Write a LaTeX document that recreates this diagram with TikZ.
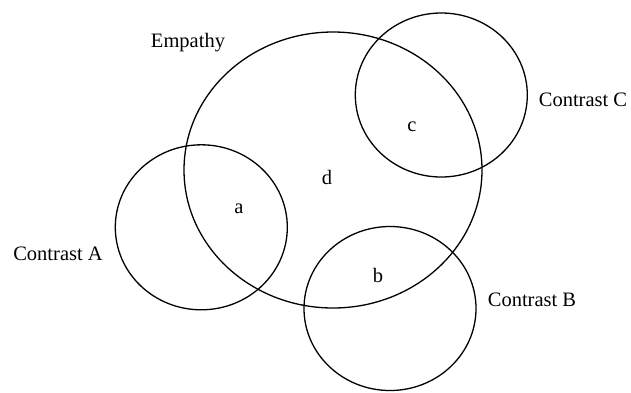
\documentclass[tikz,border=0pt]{standalone}
\usepackage{fontspec}
\setmainfont{Liberation Serif}
\begin{document}
\begin{tikzpicture}[x=1pt,y=-1pt,
  set/.style={draw=black,line width=1.3pt},
  lbl/.style={font=\fontsize{20.5}{24}\selectfont,inner sep=0pt}]
\useasboundingbox (0,0) rectangle (631,392);
\draw[set] (333,170) ellipse [x radius=149pt, y radius=138pt];
\draw[set] (201.3,227.3) ellipse [x radius=86pt, y radius=82.5pt];
\draw[set] (390,308.5) ellipse [x radius=86pt, y radius=82pt];
\draw[set] (441.3,95) ellipse [x radius=86pt, y radius=82pt];
\node[lbl] (emp) at (188,43) {Empathy};
\node[lbl] (ca) at (58,254) {Contrast A};
\node[lbl] (cb) at (532,300) {Contrast B};
\node[lbl] (cc) at (583,100) {Contrast C};
\node[lbl] (d) at (327,177) {d};
\node[lbl] (a) at (239,209) {a};
\node[lbl] (b) at (378,275) {b};
\node[lbl] (c) at (412,127) {c};
\end{tikzpicture}
\end{document}
